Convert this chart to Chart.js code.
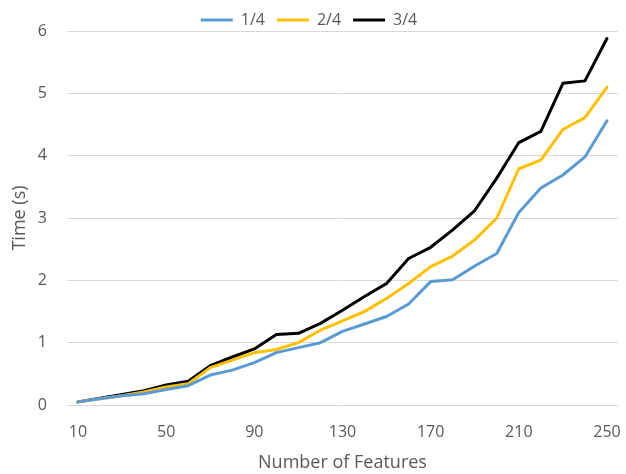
<!DOCTYPE html>
<html>
<head>
<meta charset="utf-8">
<script src="https://cdn.jsdelivr.net/npm/chart.js@4/dist/chart.umd.min.js"></script>
<style>
  html, body { margin: 0; padding: 0; background: #fff; }
  #wrap { width: 626px; height: 474px; position: relative; }
</style>
</head>
<body>
<div id="wrap"><canvas id="chart"></canvas></div>
<script>
// feature counts on the x axis
const features = [10, 20, 30, 40, 50, 60, 70, 80, 90, 100, 110, 120, 130,
  140, 150, 160, 170, 180, 190, 200, 210, 220, 230, 240, 250];
const shownTicks = [10, 50, 90, 130, 170, 210, 250];
const yTicks = [0, 1, 2, 3, 4, 5, 6];

// run time in seconds per split
const quarter1 = [0.05, 0.10, 0.15, 0.18, 0.25, 0.31, 0.48, 0.56, 0.68, 0.84, 0.92, 1.00, 1.18,
  1.30, 1.42, 1.62, 1.98, 2.01, 2.23, 2.43, 3.09, 3.48, 3.69, 3.98, 4.56];
const quarter2 = [0.05, 0.10, 0.15, 0.21, 0.29, 0.34, 0.60, 0.72, 0.84, 0.89, 1.00, 1.20, 1.35,
  1.50, 1.71, 1.95, 2.22, 2.39, 2.65, 3.00, 3.79, 3.93, 4.42, 4.61, 5.10];
const quarter3 = [0.05, 0.11, 0.17, 0.23, 0.32, 0.38, 0.63, 0.77, 0.90, 1.13, 1.15, 1.31, 1.52,
  1.74, 1.95, 2.35, 2.53, 2.81, 3.12, 3.64, 4.21, 4.39, 5.16, 5.20, 5.88];

const FONT = "'Open Sans', 'Noto Sans', sans-serif";
const TEXT = "#595959";

function series(label, data, color) {
  return {
    label,
    data,
    borderColor: color,
    backgroundColor: color,
    borderWidth: 3,
    tension: 0,
    pointRadius: 0,
    pointHoverRadius: 0,
    borderCapStyle: "round",
    borderJoinStyle: "round",
    fill: false,
  };
}

new Chart(document.getElementById("chart"), {
  type: "line",
  data: {
    labels: features,
    datasets: [
      series("1/4", quarter1, "#5B9BD5"),
      series("2/4", quarter2, "#FFC000"),
      series("3/4", quarter3, "#000000"),
    ],
  },
  options: {
    responsive: true,
    maintainAspectRatio: false,
    animation: false,
    layout: { padding: { left: 0, right: 8, top: 0, bottom: 0 } },
    plugins: {
      legend: {
        position: "top",
        maxHeight: 31,
        labels: {
          usePointStyle: true,
          pointStyle: "line",
          pointStyleWidth: 32,
          boxHeight: 16,
          padding: 12,
          color: TEXT,
          font: { family: FONT, size: 16 },
        },
      },
      tooltip: { enabled: false },
    },
    scales: {
      x: {
        offset: true,
        grid: { display: false, drawTicks: false },
        border: { display: false },
        ticks: {
          autoSkip: false,
          maxRotation: 0,
          padding: 18,
          color: TEXT,
          font: { family: FONT, size: 16 },
          callback: function (value, index) {
            const f = features[index];
            return shownTicks.includes(f) ? String(f) : "";
          },
        },
        title: {
          display: true,
          text: "Number of Features",
          color: TEXT,
          font: { family: FONT, size: 18 },
          padding: { top: 0, bottom: 0 },
        },
        afterFit: (scale) => {
          scale.height = 69;
          // end labels sit inside the offset half-categories, no extra room needed
          scale.paddingLeft = 0;
          scale.paddingRight = 0;
        },
      },
      y: {
        min: yTicks[0],
        max: yTicks[yTicks.length - 1],
        grid: { color: "#D9D9D9", lineWidth: 1, drawTicks: false },
        border: { display: false },
        ticks: {
          stepSize: 1,
          padding: 20,
          color: TEXT,
          font: { family: FONT, size: 16 },
        },
        title: {
          display: true,
          text: "Time (s)",
          color: TEXT,
          font: { family: FONT, size: 18 },
          padding: { top: 9, bottom: 0 },
        },
        afterFit: (scale) => { scale.width = 67; },
      },
    },
  },
});
</script>
</body>
</html>
